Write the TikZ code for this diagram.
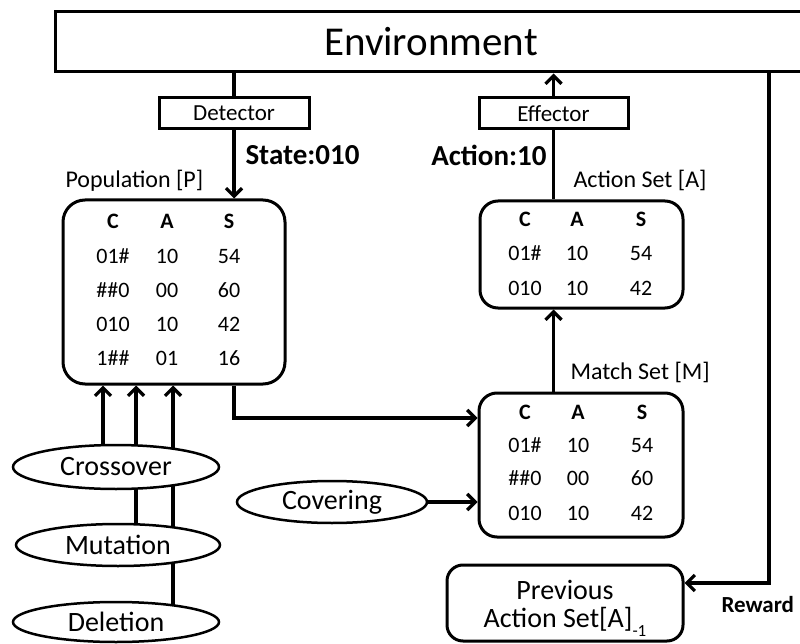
\documentclass[tikz,border=0pt]{standalone}
\usepackage{fontspec}
\setmainfont{Carlito}
\usetikzlibrary{arrows.meta,shapes.geometric,backgrounds}
\newcommand{\setpx}[1]{\fontsize{#1}{#1}\selectfont}
\begin{document}
\begin{tikzpicture}[x=1pt,y=-1pt,
  line width=3pt,
  box/.style={draw,rectangle,inner sep=0pt},
  setbox/.style={draw,rectangle,inner sep=0pt,rounded corners=#1},
  oval/.style={draw,ellipse,inner sep=0pt,fill=white,line width=2.5pt,font=\setpx{28}},
  arr/.style={line width=3.2pt,-{Straight Barb[length=8pt,width=16pt]}},
  lbl/.style={inner sep=0pt,font=\setpx{24}},
  bold/.style={inner sep=0pt,font=\setpx{29}\bfseries},
  hd/.style={inner sep=0pt,font=\setpx{22}\bfseries,text height=14pt,text depth=0pt},
  cell/.style={inner sep=0pt,font=\setpx{22},text height=14pt,text depth=0pt},
  plain/.style={inner sep=0pt,font=\setpx{28}},
]
\useasboundingbox (0,0) rectangle (800,644);

% environment and interfaces
\node[box,minimum width=752pt,minimum height=60pt,font=\setpx{41}] (env) at (431,42) {Environment};
\node[box,minimum width=150pt,minimum height=31pt,font=\setpx{23}] (det) at (234,113.5) {Detector};
\node[box,minimum width=149pt,minimum height=31pt,font=\setpx{23}] (eff) at (553.5,113.5) {Effector};

% classifier sets
\node[setbox=22pt,minimum width=222pt,minimum height=184pt] (pop) at (174,292) {};
\node[setbox=18pt,minimum width=203pt,minimum height=107pt] (act) at (581.5,254.5) {};
\node[setbox=18pt,minimum width=204pt,minimum height=144pt] (match) at (581,465) {};
\node[setbox=16pt,minimum width=236pt,minimum height=76pt] (prev) at (565,603) {};
\node[plain] (prev-t1) at (565,590) {Previous};
\node[plain] (prev-t2) at (565,622) {Action Set[A]\raisebox{-0.3em}{\setpx{17}-1}};

% population table
\node[hd] (popC) at (113,222) {C};
\node[hd] (popA) at (167,222) {A};
\node[hd] (popS) at (229,222) {S};
\foreach \y/\c/\a/\s [count=\i] in {257/01\#/10/54, 290/\#\#0/00/60, 324/010/10/42, 358/1\#\#/01/16}{
  \node[cell] (pop-c\i) at (113,\y) {\c};
  \node[cell] (pop-a\i) at (167,\y) {\a};
  \node[cell] (pop-s\i) at (229,\y) {\s};
}

% action set table
\node[hd] (actC) at (525,220) {C};
\node[hd] (actA) at (577,220) {A};
\node[hd] (actS) at (641,220) {S};
\foreach \y/\c/\a/\s [count=\i] in {254/01\#/10/54, 288/010/10/42}{
  \node[cell] (act-c\i) at (525,\y) {\c};
  \node[cell] (act-a\i) at (577,\y) {\a};
  \node[cell] (act-s\i) at (641,\y) {\s};
}

% match set table
\node[hd] (matC) at (525,412) {C};
\node[hd] (matA) at (578,412) {A};
\node[hd] (matS) at (642,412) {S};
\foreach \y/\c/\a/\s [count=\i] in {445/01\#/10/54, 478/\#\#0/00/60, 513/010/10/42}{
  \node[cell] (mat-c\i) at (525,\y) {\c};
  \node[cell] (mat-a\i) at (578,\y) {\a};
  \node[cell] (mat-s\i) at (642,\y) {\s};
}

% labels
\node[lbl,anchor=west] (popl) at (64,181) {Population [P]};
\node[lbl,anchor=west] (actl) at (572,180) {Action Set [A]};
\node[lbl,anchor=west] (matl) at (569,372) {Match Set [M]};
\node[bold,anchor=west] (state) at (244,155) {State:010};
\node[bold,anchor=east] (actn) at (548,155) {Action:10};
\node[inner sep=0pt,font=\setpx{23}\bfseries,anchor=west] (rew) at (720,605) {Reward};

% genetic operators
\node[oval,minimum width=206pt,minimum height=44pt] (cross) at (116,467) {Crossover};
\node[oval,minimum width=204pt,minimum height=42pt] (mut) at (118,545) {Mutation};
\node[oval,minimum width=206pt,minimum height=40pt] (del) at (116,622) {Deletion};
\node[oval,minimum width=190pt,minimum height=42pt] (cov) at (332,502) {Covering};

% connectors
\draw[line width=3.2pt] (det.north) -- (det.north |- env.south);
\draw[arr] (det.south) -- (det.south |- pop.north);
\draw[line width=3.2pt] (eff.south) -- (eff.south |- act.north);
\draw[arr] (eff.north) -- (eff.north |- env.south);
\draw[arr] (eff.south |- match.north) -- (eff.south |- act.south);
\draw[arr] (det.south |- pop.south) |- ([yshift=47pt]match.west);
\draw[arr] (cov.east) -- (cov.east -| match.west);
\draw[arr] ([xshift=338pt]env.south) |- ([yshift=20pt]prev.east);

\begin{pgfonlayer}{background}
\draw[arr] ([xshift=-13pt]cross.center) -- ([xshift=-13pt]cross.center |- pop.south);
\draw[arr] ([xshift=18pt]mut.center) -- ([xshift=18pt]mut.center |- pop.south);
\draw[arr] ([xshift=57pt]del.center) -- ([xshift=57pt]del.center |- pop.south);
\end{pgfonlayer}
\end{tikzpicture}
\end{document}
